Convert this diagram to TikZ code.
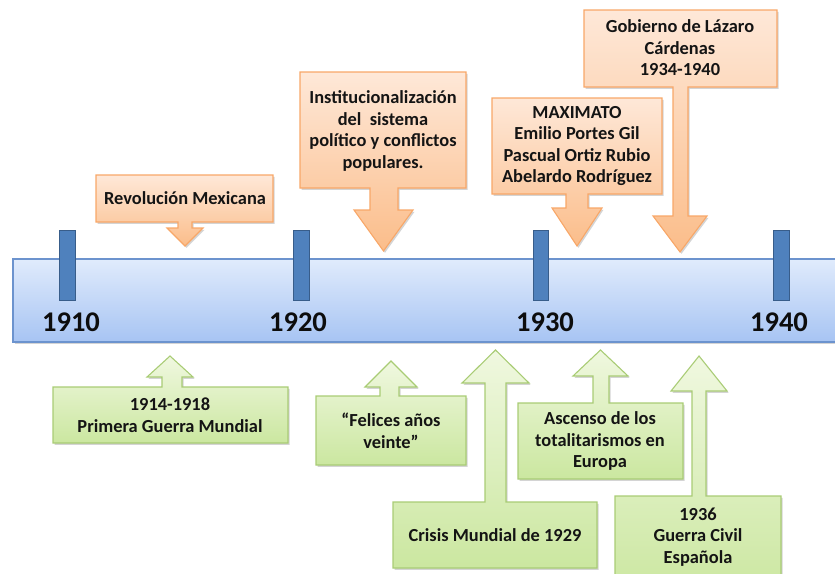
\documentclass[tikz,border=0pt]{standalone}
\usepackage{fontspec}
\setmainfont{Carlito}
\usetikzlibrary{shadows}
\definecolor{barTop}{HTML}{E0EBFC}
\definecolor{barBot}{HTML}{A7C4F3}
\definecolor{barLine}{HTML}{6C93CE}
\definecolor{tickFill}{HTML}{4F81BD}
\definecolor{tickLine}{HTML}{385D8A}
\definecolor{orTop}{HTML}{FEE8D8}
\definecolor{orBot}{HTML}{FBBD8A}
\definecolor{orLine}{HTML}{F8A768}
\definecolor{grTop}{HTML}{F0F8E0}
\definecolor{grBot}{HTML}{CBE7A0}
\definecolor{grLine}{HTML}{A9CC75}
\begin{document}
\begin{tikzpicture}[x=1pt,y=-1pt,
  shd/.style={drop shadow={shadow xshift=1.5pt,shadow yshift=-1.8pt,opacity=0.28,fill=black!60}},
  orcall/.style={shd,top color=orTop,bottom color=orBot,draw=orLine,line width=1.1pt,line join=miter},
  grcall/.style={shd,top color=grTop,bottom color=grBot,draw=grLine,line width=1.1pt,line join=miter},
  barbox/.style={shd,top color=barTop,bottom color=barBot,draw=barLine,line width=1.1pt},
  tickbox/.style={fill=tickFill,draw=tickLine,line width=0.9pt},
  lbl/.style={inner sep=0pt,align=center,font=\fontsize{18.4}{21.5}\selectfont\bfseries,text=black!92},
  yearlbl/.style={inner sep=0pt,font=\fontsize{28.5}{30}\selectfont\bfseries,text=black!95}]
\useasboundingbox (0,0) rectangle (835,573);

% timeline bar
\path[barbox] (13,259) rectangle (860,342);
\path[tickbox] (59,230) rectangle (75,300);
\path[tickbox] (293,230) rectangle (309,300);
\path[tickbox] (533,230) rectangle (548,300);
\path[tickbox] (773,230) rectangle (789,300);
\node[yearlbl] (y1910) at (71,322) {1910};
\node[yearlbl] (y1920) at (298,322) {1920};
\node[yearlbl] (y1930) at (545,322) {1930};
\node[yearlbl] (y1940) at (779,322) {1940};

% orange callouts (down)
\path[orcall] (96,175) -- (273,175) -- (273,222) -- (192,222) -- (192,228) -- (203,228) -- (185,246) -- (167,228) -- (178,228) -- (178,222) -- (96,222) -- cycle;
\node[lbl] (revol) at (185,198) {Revolución Mexicana};

\path[orcall] (300,72) -- (466,72) -- (466,188) -- (398,188) -- (398,210) -- (413,210) -- (383.5,251) -- (354,210) -- (370,210) -- (370,188) -- (300,188) -- cycle;
\node[lbl] (instit) at (383,131) {Institucionalización\\del~ sistema\\político y conflictos\\populares.};

\path[orcall] (492,98) -- (662,98) -- (662,194) -- (588,194) -- (588,208) -- (602,208) -- (577,246) -- (552,208) -- (566,208) -- (566,194) -- (492,194) -- cycle;
\node[lbl] (maxi) at (577,146) {MAXIMATO\\Emilio Portes Gil\\Pascual Ortiz Rubio\\Abelardo Rodríguez};

\path[orcall] (584,10) -- (777,10) -- (777,87) -- (688,87) -- (688,216) -- (707,216) -- (680,252) -- (653,216) -- (673,216) -- (673,87) -- (584,87) -- cycle;
\node[lbl] (cardenas) at (680,48) {Gobierno de Lázaro\\Cárdenas\\1934-1940};

% green callouts (up)
\path[grcall] (53,443) -- (53,387) -- (162,387) -- (162,377) -- (147,377) -- (170,356) -- (193,377) -- (182,377) -- (182,387) -- (288,387) -- (288,443) -- cycle;
\node[lbl] (guerra1) at (170,415) {1914-1918\\Primera Guerra Mundial};

\path[grcall] (316,465) -- (316,396) -- (380,396) -- (380,387) -- (365,387) -- (391,361) -- (417,387) -- (399,387) -- (399,396) -- (466,396) -- (466,465) -- cycle;
\node[lbl] (felices) at (391,431) {“Felices años\\veinte”};

\path[grcall] (393,568) -- (393,502) -- (485,502) -- (485,383) -- (462,383) -- (495.5,350) -- (529,383) -- (506,383) -- (506,502) -- (597,502) -- (597,568) -- cycle;
\node[lbl] (crisis) at (495,535) {Crisis Mundial de 1929};

\path[grcall] (518,479) -- (518,403) -- (593,403) -- (593,376) -- (573,376) -- (600.5,350) -- (628,376) -- (609,376) -- (609,403) -- (683,403) -- (683,479) -- cycle;
\node[lbl] (ascenso) at (600,441) {Ascenso de los\\totalitarismos en\\Europa};

\path[grcall] (615,595) -- (615,496) -- (692,496) -- (692,391) -- (671,391) -- (699,356) -- (727,391) -- (706,391) -- (706,496) -- (781,496) -- (781,595) -- cycle;
\node[lbl] (civil) at (698,537) {1936\\Guerra Civil\\Española};
\end{tikzpicture}
\end{document}
